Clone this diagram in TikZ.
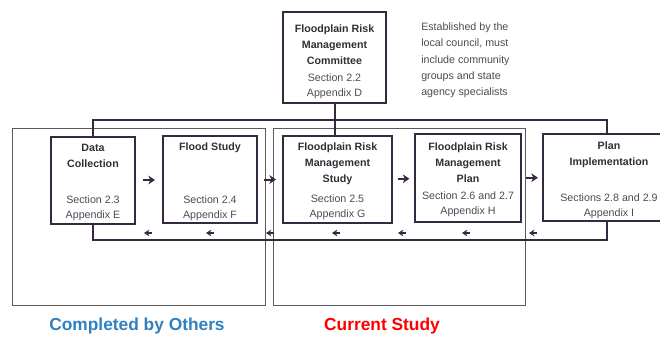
\documentclass[tikz,border=0pt]{standalone}
\usepackage{fontspec}
\setmainfont{Liberation Sans}
\usetikzlibrary{arrows.meta,calc}
\definecolor{boxline}{RGB}{54,40,62}
\definecolor{txtdark}{RGB}{50,45,55}
\definecolor{txtgray}{RGB}{75,75,82}
\definecolor{frameline}{RGB}{90,90,90}
\definecolor{otherblue}{RGB}{47,128,193}
\newcommand{\pxu}{0.75pt}
\tikzset{
  stage/.style={draw=boxline, line width=1.6pt, inner sep=0pt},
  title/.style={font=\fontsize{8}{12}\selectfont\bfseries, text=txtdark, align=center, inner sep=0pt},
  ref/.style={font=\fontsize{8}{11.5}\selectfont, text=txtgray, align=center, inner sep=0pt},
  note/.style={font=\fontsize{8}{12.2}\selectfont, text=txtgray, align=left, inner sep=0pt},
  link/.style={draw=boxline, line width=1.5pt},
  fwd/.style={boxline, line width=1.5pt, -{Stealth[length=5pt,width=6.5pt]}},
  back/.style={boxline, line width=1.3pt, -{Stealth[length=4pt,width=5pt]}},
  region/.style={draw=frameline, line width=0.7pt, inner sep=0pt},
  caption/.style={font=\fontsize{13}{15}\selectfont\bfseries, inner sep=0pt},
}
\begin{document}
\begin{tikzpicture}[x=0.75pt,y=-0.75pt]
\useasboundingbox (0,0) rectangle (660,339);
\clip (0,0) rectangle (660,339);
% regions
\node[region, minimum width=253*\pxu, minimum height=177*\pxu] (others) at (138.5,216.5) {};
\node[region, minimum width=252*\pxu, minimum height=177*\pxu] (current) at (399,216.5) {};
\node[caption, text=otherblue] (otherslabel) at (137,326) {Completed by Others};
\node[caption, text=red] (currentlabel) at (382,326) {Current Study};
% stages
\node[stage, minimum width=103*\pxu, minimum height=91*\pxu] (com) at (334.5,57.5) {};
\node[stage, minimum width=84*\pxu, minimum height=87*\pxu] (dc) at (93,180.5) {};
\node[stage, minimum width=94*\pxu, minimum height=87*\pxu] (fs) at (210,179.5) {};
\node[stage, minimum width=109*\pxu, minimum height=87*\pxu] (frs) at (337.5,179.5) {};
\node[stage, minimum width=106*\pxu, minimum height=88*\pxu] (frp) at (468,178) {};
\node[stage, minimum width=128*\pxu, minimum height=87*\pxu] (pi) at (607,177.5) {};
% texts
\node[title] (comt) at (334.5,44.5) {Floodplain Risk\\Management\\Committee};
\node[ref] (coms) at (334.5,86.5) {Section 2.2\\Appendix D};
\node[note, anchor=west] (remark) at (421,60.5) {Established by the\\local council, must\\include community\\groups and state\\agency specialists};
\node[title] (dct) at (93,156) {Data\\Collection};
\node[ref] (dcs) at (93,208.5) {Section 2.3\\Appendix E};
\node[title] (fst) at (210,148) {Flood Study};
\node[ref] (fss) at (210,208.5) {Section 2.4\\Appendix F};
\node[title] (frst) at (337.5,164) {Floodplain Risk\\Management\\Study};
\node[ref] (frss) at (337.5,207) {Section 2.5\\Appendix G};
\node[title] (frpt) at (468,162.5) {Floodplain Risk\\Management\\Plan};
\node[ref] (frps) at (468,204.5) {Section 2.6 and 2.7\\Appendix H};
\node[title] (pit) at (609,154.5) {Plan\\Implementation};
\node[ref] (pis) at (609,206.5) {Sections 2.8 and 2.9\\Appendix I};
% links
\draw[link] (com.south) -- (com.south |- frs.north);
\draw[link] (dc.north) -- ++(0,-16) -| (pi.north);
\draw[link] (dc.south) -- ++(0,15) -| (pi.south);
\foreach \a/\b in {dc/fs,fs/frs,frs/frp,frp/pi}
    \draw[fwd] ($(\a.east)!.5!(\b.west)+(-6,0)$) -- ++(12,0);
\foreach \x in {148,210,270,336,402,466,533}
    \draw[back] (\x+4,233) -- ++(-8,0);
\end{tikzpicture}
\end{document}
